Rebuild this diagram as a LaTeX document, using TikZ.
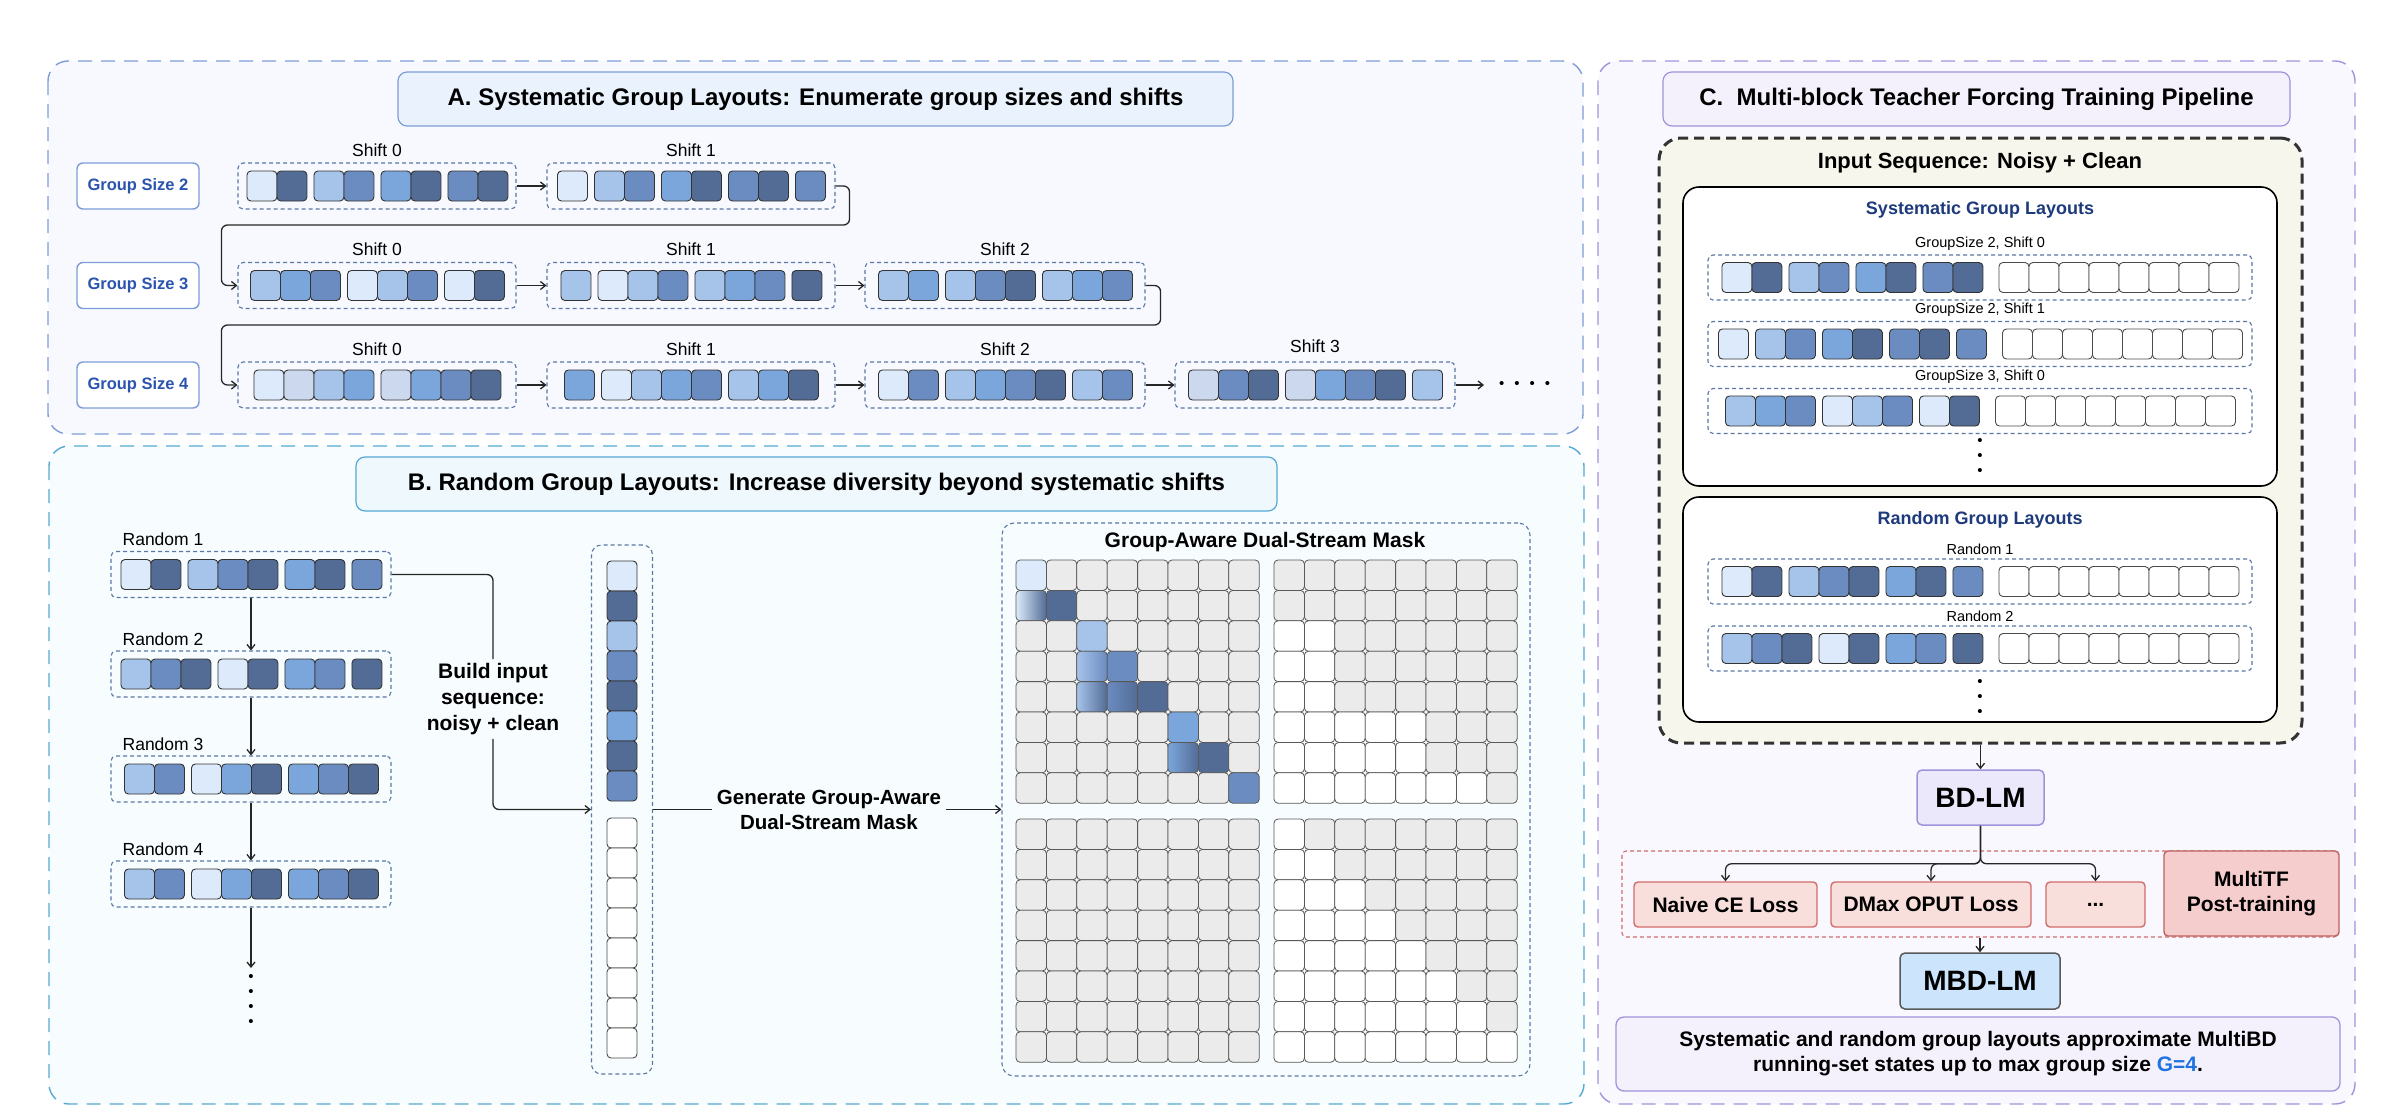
\documentclass[tikz,border=0pt]{standalone}
\usepackage{fontspec}
\setmainfont{Liberation Sans}
\usetikzlibrary{arrows.meta,positioning,calc,fit}
\definecolor{t0}{HTML}{CCD8EE}
\definecolor{t1}{HTML}{DCEAFB}
\definecolor{t2}{HTML}{A6C3EA}
\definecolor{t3}{HTML}{7BA6DC}
\definecolor{t4}{HTML}{6B8CC1}
\definecolor{t5}{HTML}{536C95}
\definecolor{cEdge}{HTML}{333333}
\definecolor{cSeq}{HTML}{5B77A6}
\definecolor{cPanA}{HTML}{7E9DD8}
\definecolor{cPanB}{HTML}{55A9D2}
\definecolor{cPanC}{HTML}{A093DB}
\definecolor{cBgA}{HTML}{F7F9FE}
\definecolor{cBgB}{HTML}{F7FCFE}
\definecolor{cBgC}{HTML}{F9F8FE}
\definecolor{cTitA}{HTML}{EAF3FD}
\definecolor{cTitB}{HTML}{EFF8FD}
\definecolor{cTitC}{HTML}{F4F1FD}
\definecolor{cGS}{HTML}{2B54AE}
\definecolor{cNavy}{HTML}{1D3A7C}
\definecolor{cCream}{HTML}{F7F6EC}
\definecolor{cGrid}{HTML}{EBEBEB}
\definecolor{cLoss}{HTML}{F8DFDB}
\definecolor{cLossE}{HTML}{D26C6C}
\definecolor{cMTF}{HTML}{F5CDCC}
\definecolor{cBD}{HTML}{ECE8FB}
\definecolor{cMBD}{HTML}{CDE5FC}
\definecolor{cG}{HTML}{1F74E0}
\tikzset{
  panel/.style={draw=#1, line width=1.4pt, dash pattern=on 14pt off 9pt, rounded corners=20pt},
  ttl/.style={draw=#1, line width=1.2pt, rounded corners=9pt, inner sep=0pt,
              font=\bfseries\fontsize{24}{28}\selectfont},
  tok/.style={draw=cEdge, line width=0.9pt, rounded corners=4pt, minimum size=30pt, inner sep=0pt, fill=#1},
  seqbox/.style={draw=cSeq, line width=1.1pt, dash pattern=on 4pt off 3pt, rounded corners=5pt, inner sep=0pt},
  gsbox/.style={draw=cPanA, line width=1.4pt, fill=white, rounded corners=6pt, minimum width=122pt,
                minimum height=46pt, text=cGS, font=\bfseries\fontsize{16.5}{20}\selectfont},
  seqlbl/.style={font=\fontsize{17.5}{20}\selectfont, inner sep=1pt},
  clbl/.style={font=\fontsize{14.5}{17}\selectfont, inner sep=1pt},
  steplbl/.style={font=\bfseries\fontsize{21}{26}\selectfont, align=center, inner sep=4pt},
  subbox/.style={draw=black, line width=1.6pt, fill=white, rounded corners=16pt, inner sep=0pt},
  subttl/.style={font=\bfseries\fontsize{18}{22}\selectfont, text=cNavy},
  inbox/.style={draw=black!80, line width=3pt, dash pattern=on 10pt off 6pt, rounded corners=22pt,
                fill=cCream, inner sep=0pt},
  model/.style={line width=1.5pt, rounded corners=5pt, inner sep=0pt, font=\bfseries\fontsize{28}{32}\selectfont},
  lossbox/.style={draw=cLossE, fill=cLoss, line width=1.4pt, rounded corners=4pt, minimum height=45pt,
                  inner sep=0pt, font=\bfseries\fontsize{21}{25}\selectfont},
  cell/.style={draw=black!65, line width=0.8pt, rounded corners=4pt, minimum size=30.4pt, inner sep=0pt},
  vdots/.style={font=\fontsize{15}{15}\selectfont, align=center, inner sep=0pt},
  flow/.style={-{Straight Barb[length=5pt,width=8pt]}, line width=1.3pt, draw=black!85},
  line/.style={line width=1.3pt, draw=black!85},
}
% one noisy sequence: name, centre x, centre y, box width, groups, colour/group list
\newcommand{\seqrow}[6]{%
  \pgfmathsetmacro{\seqw}{240+(#5-1)*7}%
  \foreach \tc/\tg [count=\i from 0] in {#6}
    \node[tok=\tc, anchor=west] (#1-\i) at ({#2-\seqw/2+\i*30+\tg*7},#3) {};%
  \node[seqbox, minimum width=#4pt, minimum height=46pt] (#1) at (#2,#3) {};%
}
% noisy sequence followed by the clean copy
\newcommand{\duorow}[5]{%
  \pgfmathsetmacro{\seqw}{240+(#4-1)*7}%
  \pgfmathsetmacro{\seqx}{#2-(\seqw+256)/2}%
  \foreach \tc/\tg [count=\i from 0] in {#5}
    \node[tok=\tc, anchor=west] (#1-\i) at ({\seqx+\i*30+\tg*7},#3) {};%
  \foreach \j in {0,...,7}
    \node[tok=white, draw=black!70, anchor=west] (#1-w\j) at ({\seqx+\seqw+16+\j*30},#3) {};%
  \node[seqbox, minimum width=544pt, minimum height=45pt] (#1) at (#2,#3) {};%
}
\begin{document}
\begin{tikzpicture}[x=1pt,y=-1pt]
\useasboundingbox (0,0) rectangle (2404,1119);
% panels
\draw[panel=cPanA, fill=cBgA] (48,61) rectangle (1583,434);
\draw[panel=cPanB, fill=cBgB] (49,446) rectangle (1584,1104);
\draw[panel=cPanC, fill=cBgC] (1598,61) rectangle (2355,1104);

% ---------- A: systematic layouts
\node[ttl=cPanA, fill=cTitA, minimum width=835pt, minimum height=54pt] (titA) at (815.5,99)
  {A. Systematic Group Layouts: Enumerate group sizes and shifts};
\node[gsbox] (gs2) at (138,186) {Group Size 2};
\node[gsbox] (gs3) at (138,285.5) {Group Size 3};
\node[gsbox] (gs4) at (138,385) {Group Size 4};

\seqrow{a20}{377}{186}{278}{4}{t1/0,t5/0,t2/1,t4/1,t3/2,t5/2,t4/3,t5/3}
\seqrow{a21}{691}{186}{288}{5}{t1/0,t2/1,t4/1,t3/2,t5/2,t4/3,t5/3,t4/4}
\seqrow{a30}{377}{285.5}{278}{3}{t2/0,t3/0,t4/0,t1/1,t2/1,t4/1,t1/2,t5/2}
\seqrow{a31}{691}{285.5}{288}{4}{t2/0,t1/1,t2/1,t4/1,t2/2,t3/2,t4/2,t5/3}
\seqrow{a32}{1005}{285.5}{280}{3}{t2/0,t3/0,t2/1,t4/1,t5/1,t2/2,t3/2,t4/2}
\seqrow{a40}{377}{385}{278}{2}{t1/0,t0/0,t2/0,t3/0,t0/1,t3/1,t4/1,t5/1}
\seqrow{a41}{691}{385}{288}{3}{t3/0,t1/1,t2/1,t3/1,t4/1,t2/2,t3/2,t5/2}
\seqrow{a42}{1005}{385}{280}{3}{t1/0,t4/0,t2/1,t3/1,t4/1,t5/1,t2/2,t4/2}
\seqrow{a43}{1315}{385}{280}{3}{t0/0,t4/0,t5/0,t0/1,t3/1,t4/1,t5/1,t2/2}

\node[seqlbl, above=5pt of a20] (l20) {Shift 0};
\node[seqlbl, above=5pt of a21] (l21) {Shift 1};
\node[seqlbl, above=5pt of a30] (l30) {Shift 0};
\node[seqlbl, above=5pt of a31] (l31) {Shift 1};
\node[seqlbl, above=5pt of a32] (l32) {Shift 2};
\node[seqlbl, above=5pt of a40] (l40) {Shift 0};
\node[seqlbl, above=5pt of a41] (l41) {Shift 1};
\node[seqlbl, above=5pt of a42] (l42) {Shift 2};
\node[seqlbl, above=8pt of a43] (l43) {Shift 3};
\node[font=\fontsize{15}{15}\selectfont, inner sep=0pt, outer xsep=15pt, anchor=west] (aMore) at (1484,385)
  {•\hspace{10pt}•\hspace{10pt}•\hspace{10pt}•};

\draw[flow] (a20) -- (a21);
\draw[flow, rounded corners=6pt] (a21.east) -- ++(14,0) -- ++(0,39) -| ([xshift=-16pt]a30.west) -- (a30.west);
\draw[flow] (a30) -- (a31);
\draw[flow] (a31) -- (a32);
\draw[flow, rounded corners=6pt] (a32.east) -- ++(15,0) -- ++(0,39.5) -| ([xshift=-16pt]a40.west) -- (a40.west);
\draw[flow] (a40) -- (a41);
\draw[flow] (a41) -- (a42);
\draw[flow] (a42) -- (a43);
\draw[flow] (a43) -- (aMore.west);

% ---------- B: random layouts
\node[ttl=cPanB, fill=cTitB, minimum width=921pt, minimum height=54pt] (titB) at (816.5,484)
  {B. Random Group Layouts: Increase diversity beyond systematic shifts};
\seqrow{r1}{251}{574.5}{280}{4}{t1/0,t5/0,t2/1,t4/1,t5/1,t3/2,t5/2,t4/3}
\seqrow{r2}{251}{674}{280}{4}{t2/0,t4/0,t5/0,t1/1,t5/1,t3/2,t4/2,t5/3}
\seqrow{r3}{251}{779}{280}{3}{t2/0,t4/0,t1/1,t3/1,t5/1,t3/2,t4/2,t5/2}
\seqrow{r4}{251}{884}{280}{3}{t2/0,t4/0,t1/1,t3/1,t5/1,t3/2,t4/2,t5/2}
\node[seqlbl, anchor=south west] (lr1) at ([xshift=11pt,yshift=4pt]r1.north west) {Random 1};
\node[seqlbl, anchor=south west] (lr2) at ([xshift=11pt,yshift=4pt]r2.north west) {Random 2};
\node[seqlbl, anchor=south west] (lr3) at ([xshift=11pt,yshift=4pt]r3.north west) {Random 3};
\node[seqlbl, anchor=south west] (lr4) at ([xshift=11pt,yshift=4pt]r4.north west) {Random 4};
\node[vdots, outer ysep=6pt] (rMore) at (251,1000) {•\\•\\•\\•};
\draw[flow] (r1) -- (r2);
\draw[flow] (r2) -- (r3);
\draw[flow] (r3) -- (r4);
\draw[flow] (r4) -- (rMore);

% input column
\foreach \tc [count=\i from 0] in {t1,t5,t2,t4,t5,t3,t5,t4}
  \node[tok=\tc] (col-\i) at (622,{576+\i*30}) {};
\foreach \j in {0,...,7}
  \node[tok=white, draw=black!70] (col-w\j) at (622,{833+\j*30}) {};
\node[seqbox, minimum width=61pt, minimum height=529pt, rounded corners=10pt] (col) at (622,809.5) {};

\node[steplbl] (build) at (493,699) {Build input\\sequence:\\noisy + clean};
\draw[line, rounded corners=6pt] (r1.east) -| (build.north);
\draw[flow, rounded corners=6pt] (build.south) |- (col.west);

% mask
\node[seqbox, minimum width=528pt, minimum height=553pt, rounded corners=12pt] (mask) at (1266,799.5) {};
\node[font=\bfseries\fontsize{21}{25}\selectfont] (maskTtl) at (1265,542) {Group-Aware Dual-Stream Mask};
\def\mcol{{"t1","t5","t2","t4","t5","t3","t5","t4"}}
\def\mgrp{{0,0,1,1,1,2,2,3}}
\foreach \i in {0,...,7}{
  \foreach \j in {0,...,7}{
    \pgfmathtruncatemacro{\gi}{\mgrp[\i]}
    \pgfmathtruncatemacro{\gj}{\mgrp[\j]}
    \pgfmathsetmacro{\ci}{\mcol[\i]}
    \pgfmathsetmacro{\cj}{\mcol[\j]}
    % noisy -> noisy
    \ifnum\gi=\gj\relax
      \ifnum\j<\i\relax
        \node[cell, left color=\cj, right color=\ci] (nn-\i-\j) at ({1031.2+\j*30.4},{575.2+\i*30.4}) {};
      \else\ifnum\j=\i\relax
        \node[cell, fill=\ci] (nn-\i-\j) at ({1031.2+\j*30.4},{575.2+\i*30.4}) {};
      \else
        \node[cell, fill=cGrid] (nn-\i-\j) at ({1031.2+\j*30.4},{575.2+\i*30.4}) {};
      \fi\fi
    \else
      \node[cell, fill=cGrid] (nn-\i-\j) at ({1031.2+\j*30.4},{575.2+\i*30.4}) {};
    \fi
    % noisy -> clean
    \ifnum\gj<\gi\relax
      \node[cell, fill=white] (nc-\i-\j) at ({1289.2+\j*30.4},{575.2+\i*30.4}) {};
    \else
      \node[cell, fill=cGrid] (nc-\i-\j) at ({1289.2+\j*30.4},{575.2+\i*30.4}) {};
    \fi
    % clean -> noisy
    \node[cell, fill=cGrid] (cn-\i-\j) at ({1031.2+\j*30.4},{834.2+\i*30.4}) {};
    % clean -> clean
    \ifnum\j>\i\relax
      \node[cell, fill=cGrid] (cc-\i-\j) at ({1289.2+\j*30.4},{834.2+\i*30.4}) {};
    \else
      \node[cell, fill=white] (cc-\i-\j) at ({1289.2+\j*30.4},{834.2+\i*30.4}) {};
    \fi
  }
}
\node[steplbl, inner xsep=5pt, font=\bfseries\fontsize{20.5}{25}\selectfont] (gen) at (829,809.5)
  {Generate Group-Aware\\Dual-Stream Mask};
\draw[line] (col.east) -- (gen.west);
\draw[flow] (gen.east) -- (gen.east -| mask.west);

% ---------- C: training pipeline
\node[ttl=cPanC, fill=cTitC, minimum width=627pt, minimum height=54pt] (titC) at (1976.5,99)
  {C.\ \ Multi-block Teacher Forcing Training Pipeline};
\node[inbox, minimum width=643pt, minimum height=605pt] (inseq) at (1980.5,440.5) {};
\node[font=\bfseries\fontsize{22}{26}\selectfont] (inTtl) at (1980,163) {Input Sequence: Noisy + Clean};

\node[subbox, minimum width=594pt, minimum height=299pt] (sysBox) at (1980,336.5) {};
\node[subttl] (sysTtl) at (1980,210) {Systematic Group Layouts};
\duorow{c20}{1980}{277.5}{4}{t1/0,t5/0,t2/1,t4/1,t3/2,t5/2,t4/3,t5/3}
\duorow{c21}{1980}{344}{5}{t1/0,t2/1,t4/1,t3/2,t5/2,t4/3,t5/3,t4/4}
\duorow{c30}{1980}{411}{3}{t2/0,t3/0,t4/0,t1/1,t2/1,t4/1,t1/2,t5/2}
\node[clbl, above=3pt of c20] (lc20) {GroupSize 2, Shift 0};
\node[clbl, above=3pt of c21] (lc21) {GroupSize 2, Shift 1};
\node[clbl, above=3pt of c30] (lc30) {GroupSize 3, Shift 0};
\node[vdots] (sysMore) at (1980,457) {•\\•\\•};

\node[subbox, minimum width=594pt, minimum height=225pt] (rndBox) at (1980,609.5) {};
\node[subttl] (rndTtl) at (1980,520) {Random Group Layouts};
\duorow{cr1}{1980}{581.5}{4}{t1/0,t5/0,t2/1,t4/1,t5/1,t3/2,t5/2,t4/3}
\duorow{cr2}{1980}{648.5}{4}{t2/0,t4/0,t5/0,t1/1,t5/1,t3/2,t4/2,t5/3}
\node[clbl, above=3pt of cr1] (lcr1) {Random 1};
\node[clbl, above=3pt of cr2] (lcr2) {Random 2};
\node[vdots] (rndMore) at (1980,698) {•\\•\\•};

\node[model, fill=cBD, draw=cPanC, minimum width=127pt, minimum height=55pt] (bdlm) at (1980.5,797.5) {BD-LM};
\draw[flow] (inseq) -- (bdlm);

\node[draw=cLossE, dash pattern=on 4pt off 3pt, line width=1.1pt, rounded corners=4pt, minimum width=716pt,
      minimum height=86pt, inner sep=0pt] (lossGrp) at (1980,894) {};
\node[lossbox, minimum width=183pt] (naive) at (1725.5,904.5) {Naive CE Loss};
\node[lossbox, minimum width=200pt] (dmax) at (1931,904.5) {DMax OPUT Loss};
\node[lossbox, minimum width=99pt] (etc) at (2095.5,904.5) {...};
\node[lossbox, fill=cMTF, draw=cLossE!90!black, minimum width=175pt, minimum height=85pt, align=center]
  (mtf) at (2251.5,893.5) {MultiTF\\Post-training};
\draw[flow, rounded corners=6pt] (bdlm.south) -- ++(0,38) -| (naive.north);
\draw[flow, rounded corners=6pt] (bdlm.south) -- ++(0,38) -| (dmax.north);
\draw[flow, rounded corners=6pt] (bdlm.south) -- ++(0,38) -| (etc.north);

\node[model, fill=cMBD, draw=black!65, minimum width=160pt, minimum height=56pt] (mbdlm) at (1980,981) {MBD-LM};
\draw[flow] (lossGrp.south) -- (mbdlm.north);

\node[draw=cPanC, fill=cTitC, line width=1.3pt, rounded corners=8pt, minimum width=724pt, minimum height=74pt,
      align=center, font=\bfseries\fontsize{21}{25}\selectfont] (note) at (1978,1054)
  {Systematic and random group layouts approximate MultiBD\\running-set states up to max group size \textcolor{cG}{G=4}.};
\end{tikzpicture}
\end{document}
